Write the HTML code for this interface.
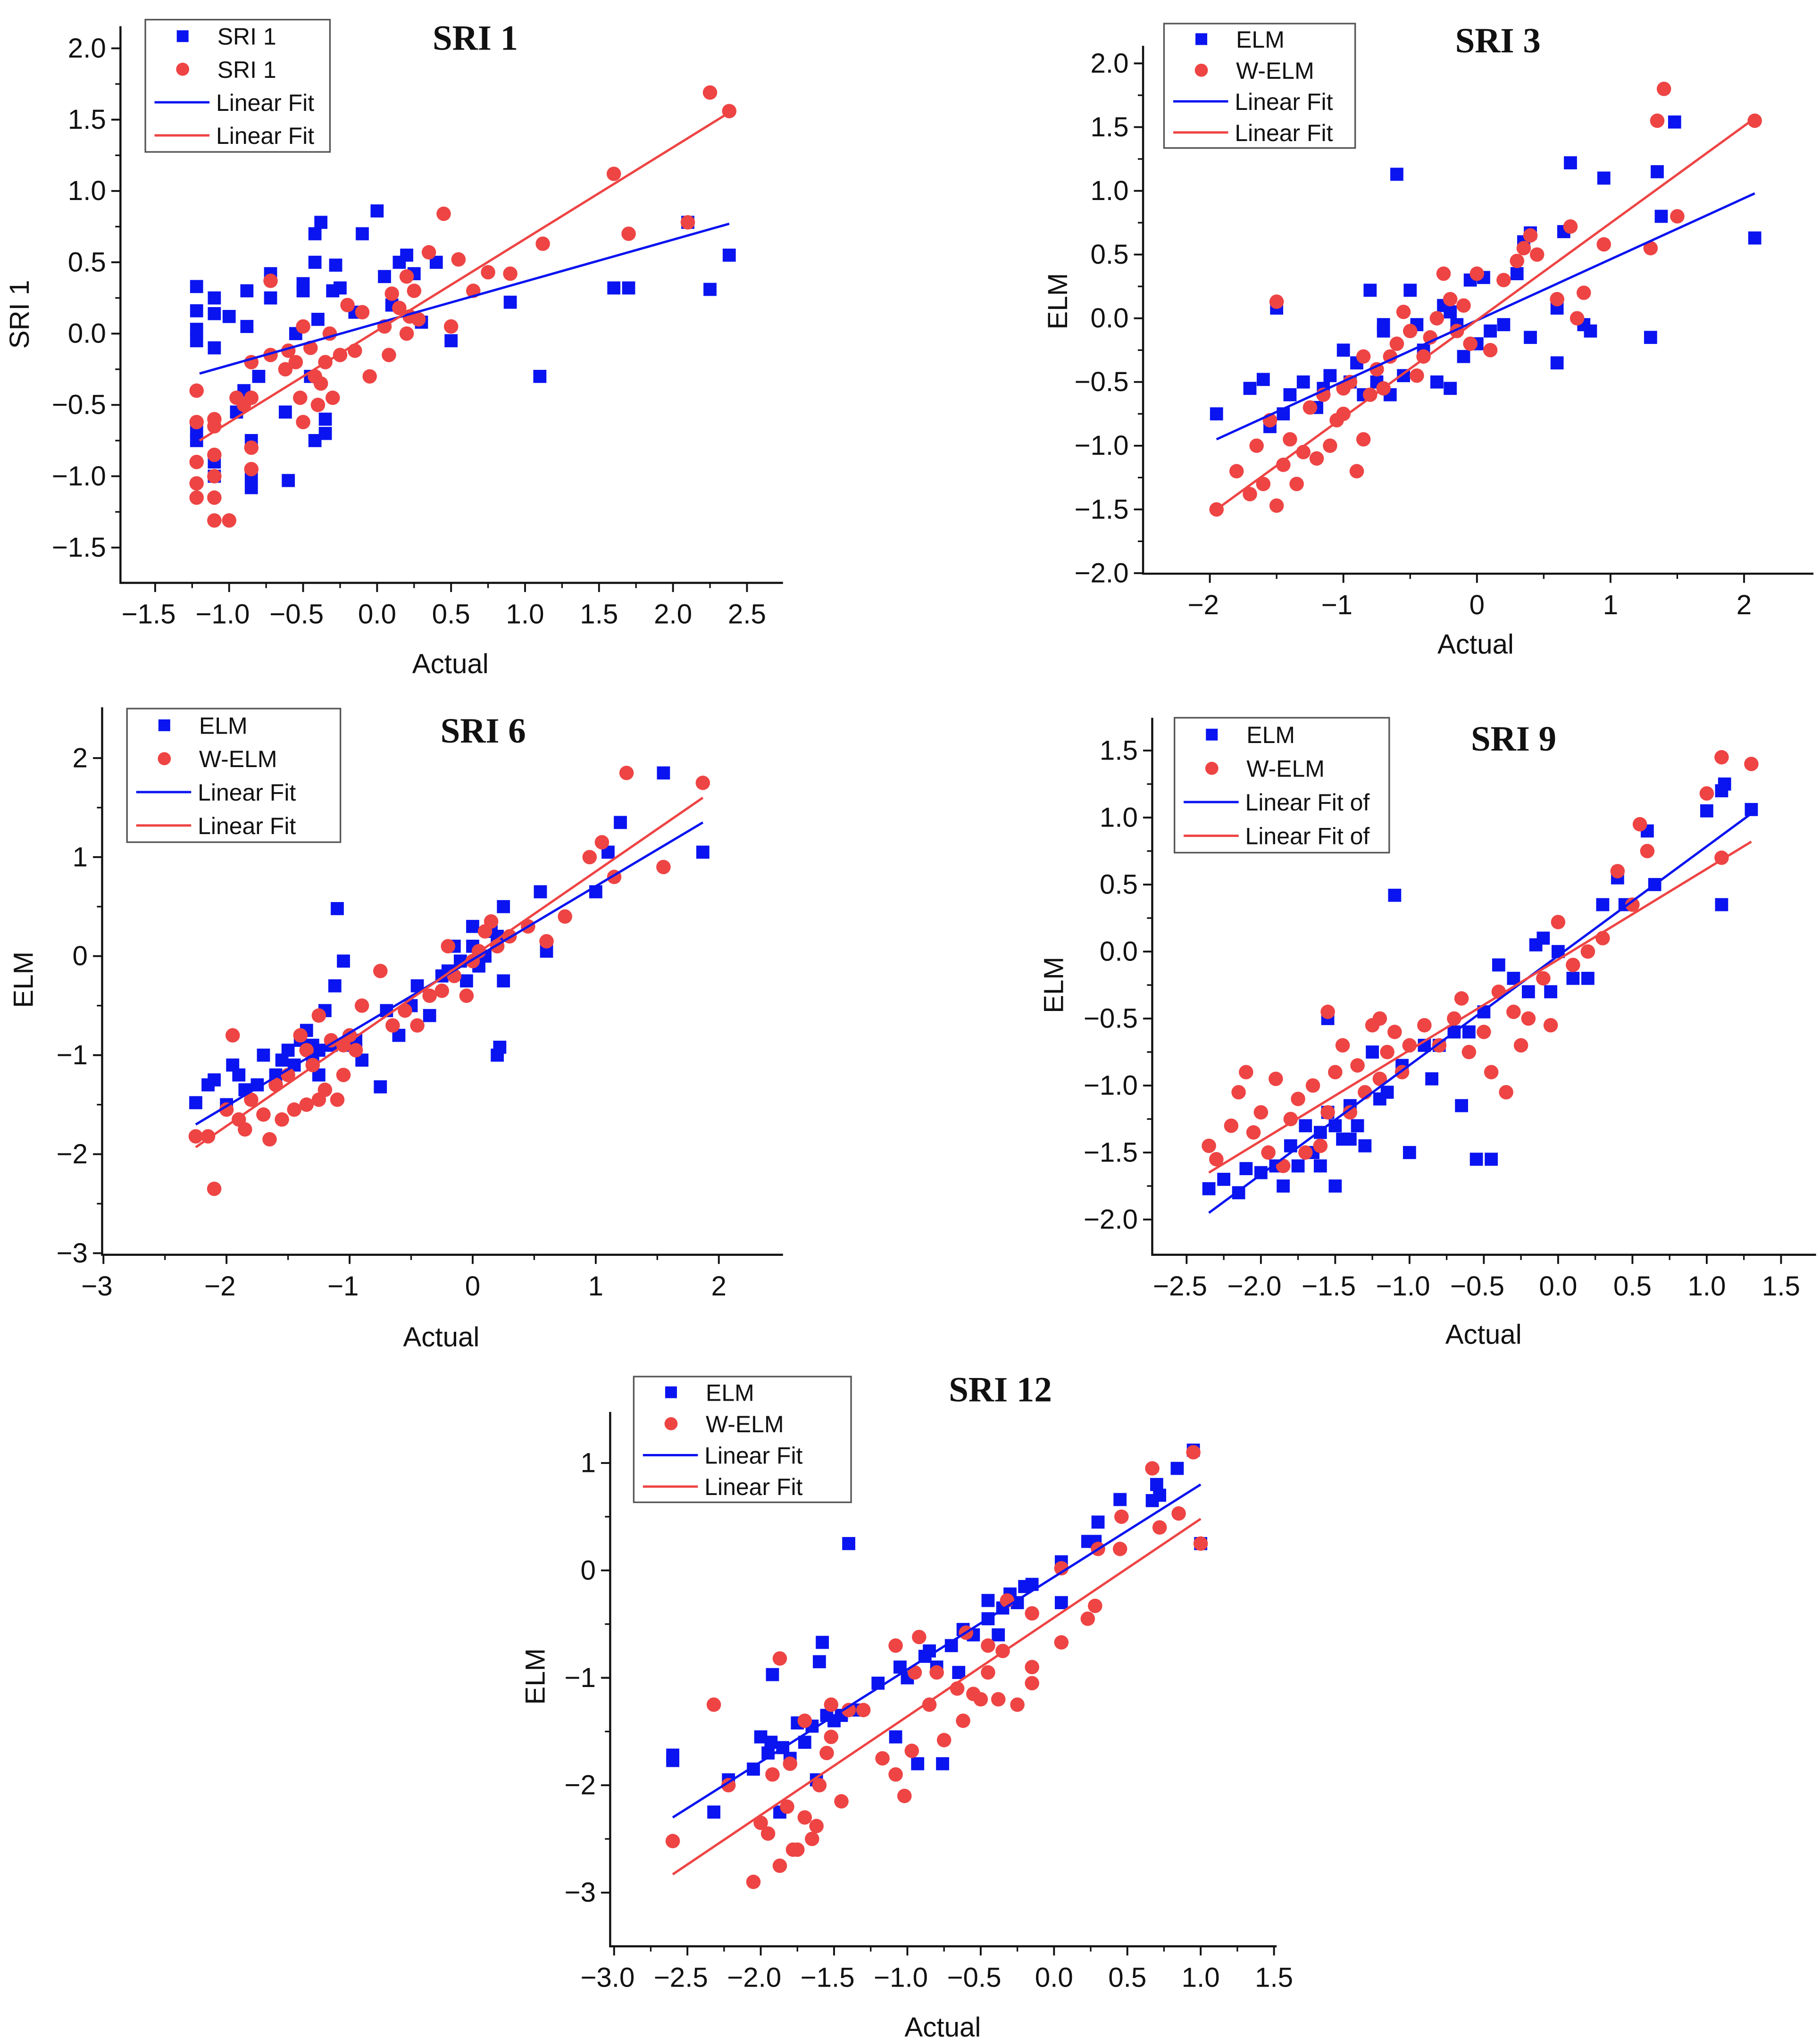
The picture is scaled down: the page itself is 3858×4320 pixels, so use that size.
<!DOCTYPE html>
<html><head><meta charset="utf-8"><style>
html,body{margin:0;padding:0;background:#fff;}
svg{display:block;}
text{font-family:"Liberation Sans",Arial,sans-serif;fill:#111;}
.title{font-family:"Liberation Serif","Times New Roman",serif;font-weight:bold;font-size:27px;}
</style></head><body>
<svg id="fig" width="3858" height="4320" viewBox="0 0 1390 1556" preserveAspectRatio="none" xmlns="http://www.w3.org/2000/svg"></svg>
<script>
// ---- data (actual, predicted) ----
const sri1Blue=[[-1.22,0.33],[-1.22,0.16],[-1.22,0.03],[-1.22,-0.05],[-1.22,-0.68],[-1.22,-0.75],[-1.1,0.25],[-1.1,0.14],[-1.1,-0.1],[-1.1,-0.9],[-1.1,-1.0],[-1.0,0.12],[-0.95,-0.55],[-0.88,0.3],[-0.88,0.05],[-0.85,-0.75],[-0.85,-1.08],[-0.85,-1.0],[-0.72,0.42],[-0.72,0.25],[-0.62,-0.55],[-0.6,-1.03],[-0.55,0.0],[-0.5,0.35],[-0.5,0.3],[-0.42,0.7],[-0.38,0.78],[-0.42,0.5],[-0.4,0.1],[-0.42,-0.75],[-0.35,-0.7],[-0.35,-0.6],[-0.3,0.3],[-0.28,0.48],[-0.25,0.32],[-0.15,0.15],[-0.1,0.7],[0.0,0.86],[0.05,0.4],[0.1,0.2],[0.15,0.5],[0.2,0.55],[0.25,0.42],[0.3,0.08],[0.4,0.5],[0.5,-0.05],[0.9,0.22],[1.1,-0.3],[1.6,0.32],[1.7,0.32],[2.1,0.78],[2.25,0.31],[2.38,0.55],[-0.9,-0.4],[-0.8,-0.3],[-0.45,-0.3]];
const sri1Red=[[-1.22,-0.4],[-1.22,-0.62],[-1.22,-0.9],[-1.22,-1.05],[-1.22,-1.15],[-1.1,-0.6],[-1.1,-0.65],[-1.1,-0.85],[-1.1,-1.0],[-1.1,-1.15],[-1.1,-1.31],[-1.0,-1.31],[-0.95,-0.45],[-0.9,-0.5],[-0.85,-0.2],[-0.85,-0.45],[-0.85,-0.8],[-0.85,-0.95],[-0.72,0.37],[-0.72,-0.15],[-0.62,-0.25],[-0.6,-0.12],[-0.55,-0.2],[-0.52,-0.45],[-0.5,-0.62],[-0.5,0.05],[-0.45,-0.1],[-0.42,-0.3],[-0.4,-0.5],[-0.38,-0.35],[-0.35,-0.2],[-0.32,0.0],[-0.3,-0.45],[-0.25,-0.15],[-0.2,0.2],[-0.15,-0.12],[-0.1,0.15],[-0.05,-0.3],[0.05,0.05],[0.1,0.28],[0.15,0.18],[0.2,0.4],[0.22,0.12],[0.25,0.3],[0.28,0.1],[0.35,0.57],[0.45,0.84],[0.5,0.05],[0.55,0.52],[0.65,0.3],[0.75,0.43],[0.9,0.42],[1.12,0.63],[1.6,1.12],[1.7,0.7],[2.1,0.78],[2.25,1.69],[2.38,1.56],[0.08,-0.15],[0.2,0.0]];
const sri3Blue=[[-1.95,-0.75],[-1.7,-0.55],[-1.6,-0.48],[-1.55,-0.85],[-1.5,0.08],[-1.45,-0.75],[-1.4,-0.6],[-1.3,-0.5],[-1.2,-0.7],[-1.15,-0.55],[-1.1,-0.45],[-1.0,-0.25],[-0.95,-0.5],[-0.9,-0.35],[-0.85,-0.6],[-0.8,0.22],[-0.75,-0.5],[-0.7,-0.1],[-0.7,-0.05],[-0.65,-0.6],[-0.6,1.13],[-0.55,-0.45],[-0.5,0.22],[-0.45,-0.05],[-0.4,-0.25],[-0.3,-0.5],[-0.25,0.1],[-0.2,-0.55],[-0.15,-0.05],[-0.1,-0.3],[-0.05,0.3],[0.0,-0.2],[0.05,0.32],[0.1,-0.1],[0.3,0.35],[0.35,0.6],[0.4,0.67],[0.4,-0.15],[0.6,0.08],[0.6,-0.35],[0.65,0.68],[0.7,1.22],[0.8,-0.05],[0.85,-0.1],[0.95,1.1],[1.3,-0.15],[1.35,1.15],[1.38,0.8],[1.48,1.54],[2.08,0.63],[-0.2,0.05],[0.2,-0.05]];
const sri3Red=[[-1.95,-1.5],[-1.8,-1.2],[-1.7,-1.38],[-1.65,-1.0],[-1.6,-1.3],[-1.55,-0.8],[-1.5,-1.47],[-1.5,0.13],[-1.45,-1.15],[-1.4,-0.95],[-1.35,-1.3],[-1.3,-1.05],[-1.25,-0.7],[-1.2,-1.1],[-1.15,-0.6],[-1.1,-1.0],[-1.05,-0.8],[-1.0,-0.75],[-0.95,-0.5],[-0.9,-1.2],[-0.85,-0.95],[-0.8,-0.6],[-0.75,-0.4],[-0.7,-0.55],[-0.65,-0.3],[-0.6,-0.2],[-0.55,0.05],[-0.5,-0.1],[-0.45,-0.45],[-0.4,-0.3],[-0.35,-0.15],[-0.3,0.0],[-0.25,0.35],[-0.2,0.15],[-0.15,-0.1],[-0.1,0.1],[-0.05,-0.2],[0.0,0.35],[0.1,-0.25],[0.2,0.3],[0.3,0.45],[0.35,0.55],[0.4,0.65],[0.45,0.5],[0.6,0.15],[0.7,0.72],[0.75,0.0],[0.8,0.2],[0.95,0.58],[1.3,0.55],[1.35,1.55],[1.4,1.8],[1.5,0.8],[2.08,1.55],[-0.85,-0.3],[-1.0,-0.55]];
const sri6Blue=[[-2.25,-1.48],[-2.15,-1.3],[-2.1,-1.25],[-2.0,-1.5],[-1.95,-1.1],[-1.9,-1.2],[-1.85,-1.35],[-1.75,-1.3],[-1.7,-1.0],[-1.6,-1.2],[-1.55,-1.05],[-1.5,-0.95],[-1.45,-1.1],[-1.4,-0.85],[-1.35,-0.75],[-1.3,-1.05],[-1.25,-0.95],[-1.2,-0.55],[-1.15,-0.9],[-1.12,-0.3],[-1.1,0.48],[-1.05,-0.05],[-1.0,-0.9],[-0.9,-1.05],[-0.75,-1.32],[-0.7,-0.55],[-0.6,-0.8],[-0.5,-0.5],[-0.45,-0.3],[-0.35,-0.6],[-0.25,-0.2],[-0.2,-0.15],[-0.1,-0.05],[-0.05,-0.25],[0.0,0.1],[0.05,-0.1],[0.1,0.0],[0.15,0.25],[0.2,0.2],[0.2,-1.0],[0.22,-0.92],[0.25,0.5],[0.25,-0.25],[0.55,0.65],[0.6,0.05],[1.0,0.65],[1.1,1.05],[1.2,1.35],[1.55,1.85],[1.87,1.05],[-1.25,-1.2],[-1.3,-0.9],[-0.95,-0.85],[-0.15,0.1],[0.0,0.3]];
const sri6Red=[[-2.25,-1.82],[-2.15,-1.82],[-2.1,-2.35],[-2.0,-1.55],[-1.95,-0.8],[-1.9,-1.65],[-1.85,-1.75],[-1.8,-1.45],[-1.7,-1.6],[-1.65,-1.85],[-1.6,-1.3],[-1.55,-1.65],[-1.5,-1.2],[-1.45,-1.55],[-1.4,-0.8],[-1.35,-1.5],[-1.3,-1.1],[-1.25,-0.6],[-1.2,-1.35],[-1.15,-0.85],[-1.1,-1.45],[-1.05,-1.2],[-1.0,-0.8],[-0.95,-0.95],[-0.9,-0.5],[-0.75,-0.15],[-0.65,-0.7],[-0.55,-0.55],[-0.45,-0.7],[-0.35,-0.4],[-0.25,-0.35],[-0.15,-0.2],[-0.05,-0.4],[0.0,-0.05],[0.05,0.05],[0.1,0.25],[0.15,0.35],[0.2,0.1],[0.3,0.2],[0.45,0.3],[0.6,0.15],[0.75,0.4],[0.95,1.0],[1.05,1.15],[1.15,0.8],[1.25,1.85],[1.55,0.9],[1.87,1.75],[-1.25,-1.45],[-1.35,-0.95],[-1.05,-0.9],[-0.2,0.1]];
const sri9Blue=[[-2.35,-1.77],[-2.25,-1.7],[-2.15,-1.8],[-2.1,-1.62],[-2.0,-1.65],[-1.9,-1.6],[-1.85,-1.75],[-1.8,-1.45],[-1.75,-1.6],[-1.7,-1.3],[-1.65,-1.5],[-1.6,-1.35],[-1.55,-1.2],[-1.5,-1.75],[-1.45,-1.4],[-1.4,-1.15],[-1.35,-1.3],[-1.3,-1.45],[-1.25,-0.75],[-1.2,-1.1],[-1.15,-1.05],[-1.1,0.42],[-1.05,-0.85],[-1.0,-1.5],[-0.9,-0.7],[-0.85,-0.95],[-0.8,-0.7],[-0.7,-0.6],[-0.65,-1.15],[-0.55,-1.55],[-0.5,-0.45],[-0.45,-1.55],[-0.4,-0.1],[-0.3,-0.2],[-0.2,-0.3],[-0.15,0.05],[-0.1,0.1],[-0.05,-0.3],[0.0,0.0],[0.1,-0.2],[0.2,-0.2],[0.3,0.35],[0.4,0.55],[0.45,0.35],[0.6,0.9],[0.65,0.5],[1.0,1.05],[1.1,1.2],[1.12,1.25],[1.1,0.35],[1.3,1.06],[-1.6,-1.6],[-1.5,-1.3],[-1.4,-1.4],[-1.55,-0.5],[-0.6,-0.6]];
const sri9Red=[[-2.35,-1.45],[-2.3,-1.55],[-2.2,-1.3],[-2.15,-1.05],[-2.1,-0.9],[-2.05,-1.35],[-2.0,-1.2],[-1.95,-1.5],[-1.9,-0.95],[-1.85,-1.6],[-1.8,-1.25],[-1.75,-1.1],[-1.7,-1.5],[-1.65,-1.0],[-1.6,-1.45],[-1.55,-1.2],[-1.5,-0.9],[-1.45,-0.7],[-1.4,-1.2],[-1.35,-0.85],[-1.3,-1.05],[-1.25,-0.55],[-1.2,-0.95],[-1.15,-0.75],[-1.1,-0.6],[-1.05,-0.9],[-1.0,-0.7],[-0.9,-0.55],[-0.8,-0.7],[-0.7,-0.5],[-0.65,-0.35],[-0.6,-0.75],[-0.5,-0.6],[-0.45,-0.9],[-0.4,-0.3],[-0.35,-1.05],[-0.3,-0.45],[-0.25,-0.7],[-0.2,-0.5],[-0.1,-0.2],[-0.05,-0.55],[0.0,0.22],[0.1,-0.1],[0.2,0.0],[0.3,0.1],[0.4,0.6],[0.5,0.35],[0.55,0.95],[0.6,0.75],[1.0,1.18],[1.1,0.7],[1.1,1.45],[1.3,1.4],[-1.55,-0.45],[-1.2,-0.5]];
const sri12Blue=[[-2.6,-1.72],[-2.6,-1.77],[-2.32,-2.25],[-2.22,-1.95],[-2.05,-1.85],[-2.0,-1.55],[-1.95,-1.7],[-1.93,-1.6],[-1.92,-0.97],[-1.85,-1.65],[-1.8,-1.75],[-1.75,-1.42],[-1.7,-1.6],[-1.65,-1.45],[-1.6,-0.85],[-1.58,-0.67],[-1.55,-1.35],[-1.5,-1.4],[-1.4,0.25],[-1.35,-1.3],[-1.2,-1.05],[-1.08,-1.55],[-1.05,-0.9],[-1.0,-1.0],[-0.93,-1.8],[-0.88,-0.8],[-0.85,-0.75],[-0.8,-0.9],[-0.76,-1.8],[-0.7,-0.7],[-0.62,-0.55],[-0.55,-0.6],[-0.45,-0.45],[-0.45,-0.28],[-0.38,-0.6],[-0.35,-0.35],[-0.3,-0.22],[-0.25,-0.3],[-0.2,-0.15],[-0.15,-0.13],[0.05,0.08],[0.05,-0.3],[0.23,0.27],[0.28,0.27],[0.3,0.45],[0.45,0.66],[0.67,0.65],[0.7,0.8],[0.72,0.7],[0.84,0.95],[0.95,1.12],[1.0,0.25],[-1.87,-2.25],[-1.62,-1.95],[-1.45,-1.35],[-0.65,-0.95]];
const sri12Red=[[-2.6,-2.52],[-2.32,-1.25],[-2.22,-2.0],[-2.05,-2.9],[-2.0,-2.35],[-1.95,-2.45],[-1.87,-0.82],[-1.87,-2.75],[-1.82,-2.2],[-1.8,-1.8],[-1.75,-2.6],[-1.7,-1.4],[-1.7,-2.3],[-1.65,-2.5],[-1.6,-2.0],[-1.55,-1.7],[-1.52,-1.25],[-1.45,-2.15],[-1.52,-1.55],[-1.4,-1.3],[-1.17,-1.75],[-1.08,-0.7],[-1.08,-1.9],[-1.02,-2.1],[-0.95,-0.95],[-0.97,-1.68],[-0.92,-0.62],[-0.85,-1.25],[-0.8,-0.95],[-0.75,-1.58],[-0.66,-1.1],[-0.62,-1.4],[-0.6,-0.58],[-0.55,-1.15],[-0.5,-1.2],[-0.45,-0.7],[-0.45,-0.95],[-0.38,-1.2],[-0.32,-0.28],[-0.35,-0.75],[-0.25,-1.25],[-0.15,-0.4],[-0.15,-0.9],[-0.15,-1.05],[0.05,-0.67],[0.05,0.02],[0.23,-0.45],[0.28,-0.33],[0.3,0.2],[0.45,0.2],[0.46,0.5],[0.67,0.95],[0.72,0.4],[0.85,0.53],[0.95,1.1],[1.0,0.25],[-1.92,-1.9],[-1.78,-2.6],[-1.62,-2.38],[-1.3,-1.3]];
// ---- linear fits: [x start, x end] and [y start, y end] ----
const fitX=[[-1.2,2.38],[-1.95,2.08],[-2.25,1.87],[-2.35,1.3],[-2.6,1.0]];
const fitBlueY=[[-0.28,0.77],[-0.95,0.98],[-1.7,1.35],[-1.95,1.03],[-2.3,0.8]];
const fitRedY=[[-0.75,1.55],[-1.5,1.57],[-1.93,1.6],[-1.65,0.82],[-2.83,0.48]];
// ---- tick values ----
const xTicks1=[-1.5,-1.0,-0.5,0.0,0.5,1.0,1.5,2.0,2.5];
const yTicks1=[-1.5,-1.0,-0.5,0.0,0.5,1.0,1.5,2.0];
const xTicks3=[-2,-1,0,1,2];
const yTicks3=[-2.0,-1.5,-1.0,-0.5,0.0,0.5,1.0,1.5,2.0];
const xTicks6=[-3,-2,-1,0,1,2];
const yTicks6=[-3,-2,-1,0,1,2];
const xTicks9=[-2.5,-2.0,-1.5,-1.0,-0.5,0.0,0.5,1.0,1.5];
const yTicks9=[-2.0,-1.5,-1.0,-0.5,0.0,0.5,1.0,1.5];
const xTicks12=[-3.0,-2.5,-2.0,-1.5,-1.0,-0.5,0.0,0.5,1.0,1.5];
const yTicks12=[-3,-2,-1,0,1];
const legendLabels=[["SRI 1","SRI 1","Linear Fit","Linear Fit"],["ELM","W-ELM","Linear Fit","Linear Fit"],["ELM","W-ELM","Linear Fit","Linear Fit"],["ELM","W-ELM","Linear Fit of","Linear Fit of"],["ELM","W-ELM","Linear Fit","Linear Fit"]];

const BLUE="#0a14f0", RED="#ee4444";
const NS="http://www.w3.org/2000/svg";
const svg=document.getElementById('fig');
function mk(tag,attrs,parent,txt){const e=document.createElementNS(NS,tag);for(const k in attrs)e.setAttribute(k,attrs[k]);if(txt!==undefined)e.textContent=txt;(parent||svg).appendChild(e);return e;}
function fmt(v,d){const s=Math.abs(v).toFixed(d);return (v<0?"\u2212":"")+s;}

const panels=[
 {key:"sri-1",title:"SRI 1",tx:363,ty:38,ylab:"SRI 1",yl:[15,240],xl:[344,514],left:92,right:598,top:20,bottom:445,x0:288,kx:113,y0:254.7,ky:108.9,xt:xTicks1,yt:yTicks1,xd:1,yd:1,blue:sri1Blue,red:sri1Red,leg:[111,15,141,101]},
 {key:"sri-3",title:"SRI 3",tx:1144,ty:40,ylab:"ELM",yl:[808,230],xl:[1127,499],left:873,right:1385,top:35,bottom:438,x0:1128,kx:102,y0:243,ky:97.3,xt:xTicks3,yt:yTicks3,xd:0,yd:1,blue:sri3Blue,red:sri3Red,leg:[889,18,146,95]},
 {key:"sri-6",title:"SRI 6",tx:369,ty:567,ylab:"ELM",yl:[18,748],xl:[337,1028],left:78,right:598,top:540,bottom:958,x0:361,kx:94,y0:730,ky:75.6,xt:xTicks6,yt:yTicks6,xd:0,yd:0,blue:sri6Blue,red:sri6Red,leg:[97,541,163,102]},
 {key:"sri-9",title:"SRI 9",tx:1156,ty:573,ylab:"ELM",yl:[805,752],xl:[1133,1026],left:880,right:1387,top:548,bottom:958,x0:1190,kx:113.5,y0:726.5,ky:102.3,xt:xTicks9,yt:yTicks9,xd:1,yd:1,blue:sri9Blue,red:sri9Red,leg:[897,548,164,103]},
 {key:"sri-12",title:"SRI 12",tx:764,ty:1070,ylab:"ELM",yl:[409,1280],xl:[720,1555],left:466,right:975,top:1078,bottom:1486,x0:805,kx:112,y0:1199,ky:82,xt:xTicks12,yt:yTicks12,xd:1,yd:0,blue:sri12Blue,red:sri12Red,leg:[484,1051,166,96]}
];

panels.forEach((p,pi)=>{
 const g=mk('g',{});
 
 
 const sx=v=>p.x0+v*p.kx, sy=v=>p.y0-v*p.ky;
 const ax=mk('path',{d:`M${p.left},${p.top}V${p.bottom}H${p.right}`,stroke:"#111","stroke-width":1.6,fill:"none"},g);
 
 
 p.xt.forEach((v,i)=>{
  mk('line',{x1:sx(v),x2:sx(v),y1:p.bottom,y2:p.bottom+7,stroke:"#111","stroke-width":1.4},g);
  if(i<p.xt.length-1){const m=(v+p.xt[i+1])/2;mk('line',{x1:sx(m),x2:sx(m),y1:p.bottom,y2:p.bottom+4,stroke:"#111","stroke-width":1.2},g);}
  const t=mk('text',{x:sx(v)-(v<0?5:0),y:p.bottom+31,"text-anchor":"middle","font-size":21},g,fmt(v,p.xd));
  
  
 });
 p.yt.forEach((v,i)=>{
  mk('line',{x1:p.left-7,x2:p.left,y1:sy(v),y2:sy(v),stroke:"#111","stroke-width":1.4},g);
  if(i<p.yt.length-1){const m=(v+p.yt[i+1])/2;mk('line',{x1:p.left-4,x2:p.left,y1:sy(m),y2:sy(m),stroke:"#111","stroke-width":1.2},g);}
  const t=mk('text',{x:p.left-11,y:sy(v)+7,"text-anchor":"end","font-size":21},g,fmt(v,p.yd));
  
  
 });
 const yl=mk('text',{x:p.yl[0],y:p.yl[1],"text-anchor":"middle","font-size":21,transform:`rotate(-90 ${p.yl[0]} ${p.yl[1]})`,dy:7},g,p.ylab);
 
 
 const xl=mk('text',{x:p.xl[0],y:p.xl[1],"text-anchor":"middle","font-size":21},g,"Actual");
 
 
 const tt=mk('text',{x:p.tx,y:p.ty,"text-anchor":"middle",class:"title"},g,p.title);
 
 
 p.blue.forEach(d=>{
  const r=mk('rect',{x:sx(d[0])-5,y:sy(d[1])-5,width:10,height:10,fill:BLUE},g);
  
  
 });
 p.red.forEach(d=>{
  const c=mk('circle',{cx:sx(d[0]),cy:sy(d[1]),r:5.5,fill:RED},g);
  
  
 });
 const fb=mk('line',{x1:sx(fitX[pi][0]),y1:sy(fitBlueY[pi][0]),x2:sx(fitX[pi][1]),y2:sy(fitBlueY[pi][1]),stroke:BLUE,"stroke-width":1.8},g);
 
 
 const fr=mk('line',{x1:sx(fitX[pi][0]),y1:sy(fitRedY[pi][0]),x2:sx(fitX[pi][1]),y2:sy(fitRedY[pi][1]),stroke:RED,"stroke-width":1.8},g);
 
 
 const [lx,ly,lw,lh]=p.leg;
 const lg=mk('g',{},g);
 
 
 mk('rect',{x:lx,y:ly,width:lw,height:lh,fill:"#fff",stroke:"#555","stroke-width":1.2},lg);
 const step=lh/4;
 legendLabels[pi].forEach((lab,i)=>{
  const cy=ly+step*(i+0.5);
  const e=mk('g',{},lg);
  
  
  if(i===0) mk('rect',{x:lx+24,y:cy-4.5,width:9,height:9,fill:BLUE},e);
  else if(i===1) mk('circle',{cx:lx+28.5,cy:cy,r:5,fill:RED},e);
  else mk('line',{x1:lx+7,x2:lx+49,y1:cy,y2:cy,stroke:i===2?BLUE:RED,"stroke-width":1.8},e);
  mk('text',{x:lx+(i<2?55:54),y:cy+6.5,"font-size":18},e,lab);
 });
});
</script>
</body></html>
